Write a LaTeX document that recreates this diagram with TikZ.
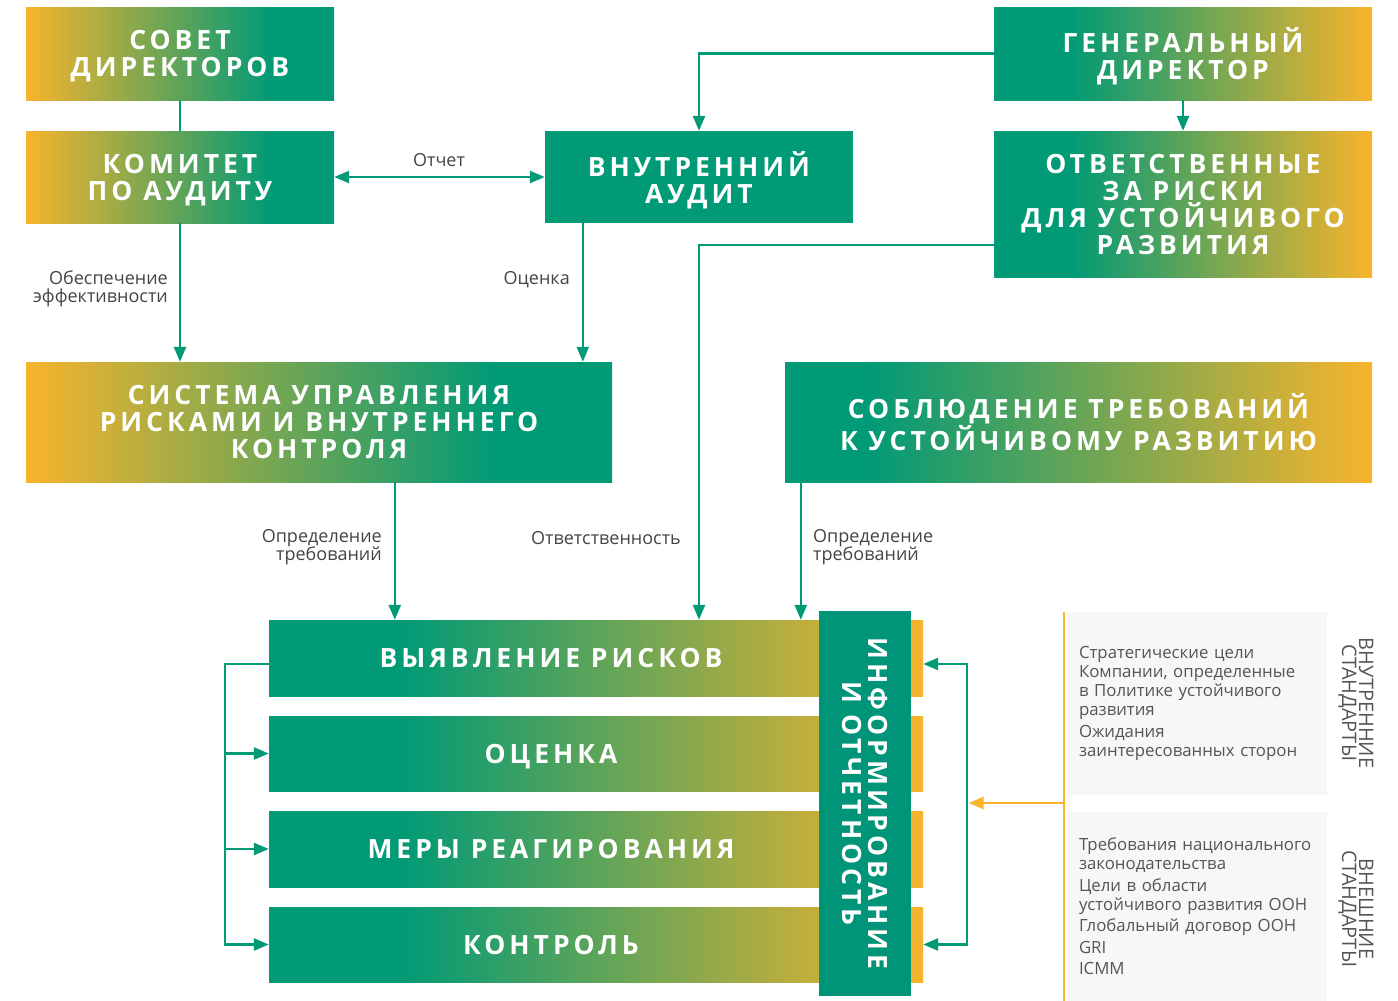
\documentclass[tikz,border=0pt]{standalone}
\usepackage{fontspec}
\setmainfont{Open Sans}
\newfontfamily\titlefont[LetterSpace=15]{Open Sans}
\usetikzlibrary{arrows.meta,calc}
\definecolor{grn}{RGB}{0,154,118}
\definecolor{grnd}{RGB}{0,148,120}
\definecolor{org}{RGB}{247,180,44}
\definecolor{lbl}{RGB}{68,68,68}
\definecolor{ptxt}{RGB}{85,85,85}
\definecolor{pbg}{RGB}{247,247,247}
\pgfdeclarehorizontalshading{og}{100bp}{color(0bp)=(org); color(25bp)=(org); color(65bp)=(grn); color(100bp)=(grn)}
\pgfdeclarehorizontalshading{go}{100bp}{color(0bp)=(grn); color(35bp)=(grn); color(75bp)=(org); color(100bp)=(org)}
\pgfdeclarehorizontalshading{gos}{100bp}{color(0bp)=(grn); color(32bp)=(grn); color(75bp)=(org); color(100bp)=(org)}
\begin{document}
\begin{tikzpicture}[x=1pt,y=-1pt,
  >={Triangle[length=15pt,width=12pt]},
  conn/.style={draw=grn, line width=2.5pt},
  oconn/.style={draw=org, line width=2.8pt},
  tbox/.style={rectangle, inner sep=0pt, text=white, align=center, text depth=0pt,
    font=\titlefont\bfseries\fontsize{26.5}{27}\selectfont},
  ogbox/.style={tbox, shade, shading=og},
  gobox/.style={tbox, shade, shading=go},
  rowbox/.style={rectangle, inner sep=0pt, text=white, shade, shading=go,
    minimum width=654pt, minimum height=76pt, text depth=0pt,
    font=\titlefont\bfseries\fontsize{26.5}{27}\selectfont},
  lbl/.style={inner sep=0pt, text=lbl, font=\fontsize{18}{18.5}\selectfont},
  panel/.style={rectangle, fill=pbg, inner xsep=12pt, inner ysep=0pt, text=ptxt,
    align=left, text width=236pt, minimum width=260pt,
    font=\fontsize{16.8}{19}\selectfont},
  rotlbl/.style={inner sep=0pt, rotate=-90, align=center, text=ptxt,
    font=\fontsize{20}{17}\selectfont}
]
\useasboundingbox (0,0) rectangle (1398,1001);

% top boxes
\node[ogbox, minimum width=308pt, minimum height=93pt] (sovet) at (180,53.5) {СОВЕТ\\ДИРЕКТОРОВ};
\node[ogbox, minimum width=308pt, minimum height=92pt] (komitet) at (180,177) {КОМИТЕТ\\ПО АУДИТУ};
\node[tbox, fill=grn, minimum width=308pt, minimum height=92pt] (vaudit) at (699,177) {ВНУТРЕННИЙ\\АУДИТ};
\node[gobox, minimum width=378pt, minimum height=93pt] (gendir) at (1183,53.5) {ГЕНЕРАЛЬНЫЙ\\ДИРЕКТОР};
\node[gobox, minimum width=378pt, minimum height=146pt] (otvet) at (1183,204) {ОТВЕТСТВЕННЫЕ\\ЗА РИСКИ\\ДЛЯ УСТОЙЧИВОГО\\РАЗВИТИЯ};
\node[ogbox, minimum width=586pt, minimum height=120pt] (sistema) at (319,422) {СИСТЕМА УПРАВЛЕНИЯ\\РИСКАМИ И ВНУТРЕННЕГО\\КОНТРОЛЯ};
\node[tbox, shade, shading=gos, minimum width=587pt, minimum height=120pt] (sobl) at (1078.5,422) {СОБЛЮДЕНИЕ ТРЕБОВАНИЙ\\К УСТОЙЧИВОМУ РАЗВИТИЮ};

% process rows
\node[rowbox] (vyyav) at (596,658) {\kern-45pt ВЫЯВЛЕНИЕ РИСКОВ\kern45pt};
\node[rowbox, minimum height=75pt] (ocenka) at (596,753.5) {\kern-45pt ОЦЕНКА\kern45pt};
\node[rowbox] (mery) at (596,849) {\kern-45pt МЕРЫ РЕАГИРОВАНИЯ\kern45pt};
\node[rowbox, minimum height=75pt] (kontrol) at (596,944.5) {\kern-45pt КОНТРОЛЬ\kern45pt};
\node[tbox, fill=grnd, rotate=-90, minimum width=385pt, minimum height=92pt,
  font=\titlefont\bfseries\fontsize{26.5}{26}\selectfont] (info) at (865,803.5) {ИНФОРМИРОВАНИЕ\\И ОТЧЕТНОСТЬ};

% standards panels
\node[panel, minimum height=183pt] (intstd) at (1197,703.5) {Стратегические цели\\Компании, определенные\\в~Политике устойчивого\\развития\\[3pt]Ожидания\\заинтересованных сторон};
\node[panel, minimum height=189pt] (extstd) at (1197,906.5) {Требования национального\\законодательства\\[2.5pt]Цели в~области\\устойчивого развития ООН\\[2.5pt]Глобальный договор ООН\\[2.5pt]GRI\\[2.5pt]ICMM};
\node[rotlbl] (intlbl) at (1356,703) {ВНУТРЕННИЕ\\СТАНДАРТЫ};
\node[rotlbl] (extlbl) at (1356,909) {ВНЕШНИЕ\\СТАНДАРТЫ};

% connectors
\draw[conn] (sovet.south) -- (komitet.north);
\draw[conn,<->] (komitet.east) -- (vaudit.west);
\draw[conn,->] (gendir.west) -| (vaudit.north);
\draw[conn,->] (gendir.south) -- (otvet.north);
\draw[conn,->] ($(otvet.west)+(0,41)$) -| (vyyav.north -| vaudit.north);
\draw[conn,->] (komitet.south) -- (komitet.south |- sistema.north);
\coordinate (va) at ($(vaudit.south west)+(38,0)$);
\draw[conn,->] (va) -- (va |- sistema.north);
\coordinate (ss) at ($(sistema.south west)+(369,0)$);
\draw[conn,->] (ss) -- (ss |- vyyav.north);
\coordinate (sb) at ($(sobl.south west)+(16,0)$);
\draw[conn,->] (sb) -- (sb |- vyyav.north);

\coordinate (vw) at ($(vyyav.west)+(0,6)$);
\coordinate (L) at ($(vw)+(-44,0)$);
\draw[conn,->] (vw) -- (L) |- (kontrol.west);
\draw[conn,->] (L |- ocenka.west) -- (ocenka.west);
\draw[conn,->] (L |- mery.west) -- (mery.west);
\coordinate (ve) at ($(vyyav.east)+(0,6)$);
\coordinate (R) at ($(ve)+(44,0)$);
\draw[conn,<->] (ve) -- (R) |- (kontrol.east);

\coordinate (ot) at (1064,612);
\coordinate (ob) at (1064,1001);
\coordinate (oj) at (1064,803);
\draw[oconn] (ot) -- (ob);
\draw[oconn,->,shorten >=1.5pt] (oj) -- (oj -| R);

% labels
\node[lbl] (lotchet) at (439,160) {Отчет};
\node[lbl, anchor=east, align=right] (lobesp) at (168,289) {Обеспечение\\эффективности};
\node[lbl, anchor=east] (locen) at (570,280) {Оценка};
\node[lbl, anchor=east, align=right] (lopr1) at (382,547) {Определение\\требований};
\node[lbl] (lotv) at (606,538) {Ответственность};
\node[lbl, anchor=west, align=left] (lopr2) at (813,547) {Определение\\требований};
\end{tikzpicture}
\end{document}
